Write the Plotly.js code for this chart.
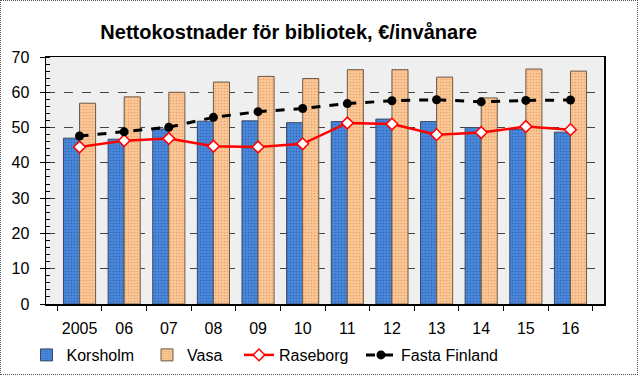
<!DOCTYPE html>
<html>
<head>
<meta charset="utf-8">
<script src="https://cdn.plot.ly/plotly-3.0.1.min.js"></script>
<style>
  html, body { margin: 0; padding: 0; background: #fff; }
  #wrap { position: relative; width: 643px; height: 375px; }
  #chart { width: 643px; height: 375px; }
  #frame { position: absolute; left: 0; top: 0; width: 638px; height: 375px; box-sizing: border-box; border: 1px dotted #555; pointer-events: none; }
</style>
</head>
<body>
<div id="wrap"><div id="chart"></div><div id="frame"></div></div>
<script>
const years = ['2005', '06', '07', '08', '09', '10', '11', '12', '13', '14', '15', '16'];
const korsholm = [47.0, 46.7, 49.6, 51.8, 51.9, 51.4, 51.7, 52.4, 51.7, 50.0, 49.5, 48.7];
const vasa = [56.9, 58.7, 60.0, 62.9, 64.5, 63.9, 66.4, 66.4, 64.3, 58.4, 66.6, 66.0];
const raseborg = [44.5, 46.3, 46.9, 44.7, 44.5, 45.4, 51.3, 51.0, 48.0, 48.6, 50.3, 49.4];
const fastaFinland = [47.6, 48.8, 50.1, 52.9, 54.5, 55.4, 56.8, 57.6, 57.9, 57.3, 57.7, 57.8];

const FONT = 'Liberation Sans, Arial, sans-serif';

const traces = [
  { type: 'bar', name: 'Korsholm', x: years, y: korsholm, legend: 'legend',
    marker: { color: '#4682d6', line: { color: '#3a4a66', width: 1 },
      pattern: { shape: '.', fgcolor: '#3568b4', bgcolor: '#4a88dc', size: 3, solidity: 0.25 } } },
  { type: 'bar', name: 'Vasa', x: years, y: vasa, legend: 'legend2',
    marker: { color: '#f8c090', line: { color: '#6e5a48', width: 1 },
      pattern: { shape: '.', fgcolor: '#e8a46c', bgcolor: '#fbc898', size: 3, solidity: 0.25 } } },
  { type: 'scatter', mode: 'lines+markers', name: 'Raseborg', x: years, y: raseborg, legend: 'legend3',
    line: { color: '#ff0000', width: 2.5 },
    marker: { symbol: 'diamond', size: 9, color: '#ffffff', line: { color: '#ff0000', width: 1.5 } } },
  { type: 'scatter', mode: 'lines+markers', name: 'Fasta Finland', x: years, y: fastaFinland, legend: 'legend4',
    line: { color: '#000000', width: 3, dash: 'dash' },
    marker: { symbol: 'circle', size: 9, color: '#000000' } }
];

const legBase = { orientation: 'h', xref: 'container', yref: 'container', y: 1 - 355 / 375, yanchor: 'middle', xanchor: 'left',
  font: { family: FONT, size: 16, color: '#000' }, bgcolor: 'rgba(0,0,0,0)', borderwidth: 0 };

const layout = {
  width: 643, height: 375,
  margin: { l: 46, r: 39, t: 57, b: 71 },
  paper_bgcolor: 'rgba(0,0,0,0)',
  plot_bgcolor: '#efefef',
  font: { family: FONT, size: 16, color: '#000' },
  title: { text: '<b>Nettokostnader för bibliotek, €/invånare</b>', font: { family: FONT, size: 20, color: '#000' },
    xref: 'container', x: 0.449, xanchor: 'center', yref: 'container', y: 1 - 32 / 375, yanchor: 'middle' },
  barmode: 'group', bargap: 0.28, bargroupgap: 0,
  xaxis: { type: 'category', tickson: 'boundaries', ticks: 'outside', ticklen: 5, tickcolor: '#000',
    showline: true, linecolor: '#000', linewidth: 1.5, mirror: true, showgrid: false, automargin: false,
    tickangle: 0, tickfont: { family: FONT, size: 16 }, ticklabelstandoff: 9 },
  yaxis: { range: [0, 70], dtick: 10, ticks: 'outside', ticklen: 5, tickcolor: '#000', automargin: false,
    showline: true, linecolor: '#000', linewidth: 1.5, mirror: true,
    showgrid: true, gridcolor: '#444', gridwidth: 1, griddash: 'dash', zeroline: false,
    minor: { dtick: 2, ticks: 'inside', ticklen: 4, tickcolor: '#000', showgrid: false },
    tickfont: { family: FONT, size: 16 }, ticklabelstandoff: 7 },
  showlegend: true,
  legend: Object.assign({}, legBase, { x: 26.5 / 643 }),
  legend2: Object.assign({}, legBase, { x: 147 / 643 }),
  legend3: Object.assign({}, legBase, { x: 239 / 643 }),
  legend4: Object.assign({}, legBase, { x: 361 / 643 })
};

Plotly.newPlot('chart', traces, layout, { displayModeBar: false, staticPlot: true });
</script>
</body>
</html>
